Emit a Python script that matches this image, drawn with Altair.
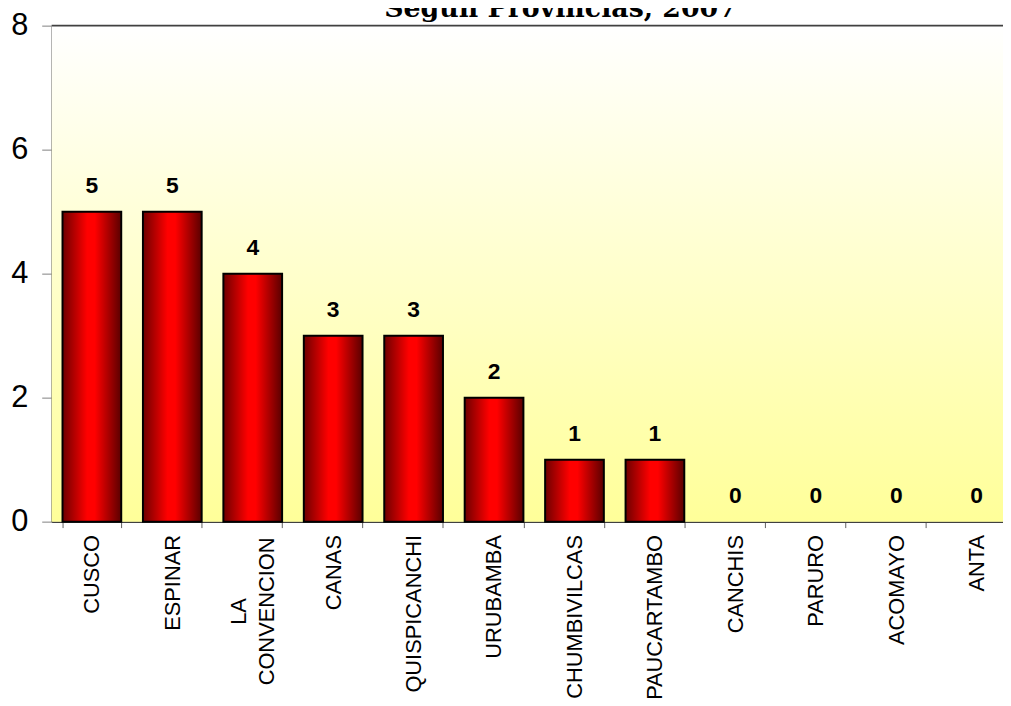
import altair as alt
import pandas as pd

categories = ["CUSCO", "ESPINAR", "LA CONVENCION", "CANAS", "QUISPICANCHI", "URUBAMBA",
              "CHUMBIVILCAS", "PAUCARTAMBO", "CANCHIS", "PARURO", "ACOMAYO", "ANTA"]
values = [5, 5, 4, 3, 3, 2, 1, 1, 0, 0, 0, 0]
y_ticks = [0, 2, 4, 6, 8]
title_text = "Según Provincias, 2007"

df = pd.DataFrame({"prov": categories, "n": values})

W, H = 973, 500

bar_grad = alt.Gradient(
    gradient="linear", x1=0, x2=1, y1=0, y2=0,
    stops=[alt.GradientStop(color="#6e0000", offset=0),
           alt.GradientStop(color="#ff0000", offset=0.42),
           alt.GradientStop(color="#ff0000", offset=0.55),
           alt.GradientStop(color="#5a0000", offset=1)])

bg_grad = alt.Gradient(
    gradient="linear", x1=0, x2=0, y1=0, y2=1,
    stops=[alt.GradientStop(color="#ffffff", offset=0),
           alt.GradientStop(color="#ffff99", offset=1)])

two_line = "datum.label == 'LA CONVENCION'"

xenc = alt.X("prov:N", sort=categories, title=None,
             scale=alt.Scale(paddingInner=0.27, paddingOuter=0.135),
             axis=alt.Axis(tickBand="extent", labelAngle=-90, labelFont="Liberation Sans",
                           labelFontSize=22, labelColor="black",
                           labelPadding=alt.condition(two_line, alt.value(84), alt.value(7)),
                           labelAlign=alt.condition(two_line, alt.value("center"), alt.value("right")),
                           labelLineHeight=28, labelOverlap=False, labelLimit=400,
                           labelExpr="datum.label == 'LA CONVENCION' ? ['LA', 'CONVENCION'] : datum.label",
                           labelOffset=alt.condition(two_line, alt.value(-14), alt.value(0)),
                           domainColor="#404040", domainWidth=1.5, tickColor="#606060",
                           tickSize=6, grid=False))
yenc = alt.Y("n:Q", title=None,
             scale=alt.Scale(domain=[0, 8], nice=False),
             axis=alt.Axis(values=y_ticks, format="d", labelFont="Liberation Sans",
                           labelFontSize=31, labelColor="black", labelPadding=14,
                           tickSize=10, tickColor="#808080",
                           domainColor="#404040", domainWidth=1.5, grid=True,
                           gridColor="#808080", gridWidth=1.2))

bg = alt.Chart(pd.DataFrame({"a": [0]})).mark_rect(fill=bg_grad).encode(
    x=alt.value(0), x2=alt.value(W), y=alt.value(0), y2=alt.value(H))

bars = alt.Chart(df).transform_filter("datum.n > 0").mark_bar(
    fill=bar_grad, stroke="black", strokeWidth=2).encode(x=xenc, y=yenc)

labels = alt.Chart(df).mark_text(font="Liberation Sans", fontSize=23, fontWeight="bold",
                                 color="black", baseline="alphabetic", dy=-19).encode(
    x=alt.X("prov:N", sort=categories), y="n:Q", text="n:Q")

top_rule = alt.Chart(pd.DataFrame({"a": [0]})).mark_rule(color="#404040", strokeWidth=2).encode(
    y=alt.datum(8))

title = alt.Chart(pd.DataFrame({"t": [title_text]})).mark_text(
    font="DejaVu Serif", fontSize=27, fontWeight="bold", color="black", baseline="alphabetic").encode(
    text="t:N", x=alt.value(513), y=alt.value(-9))

chart = alt.layer(bg, bars, labels, top_rule, title).properties(
    width=W, height=H,
    autosize=alt.AutoSizeParams(type="none"),
    padding={"left": 44, "top": 15, "right": -14, "bottom": 175},
    background="white",
).configure_view(stroke=None)

chart.save("out.html", embed_options={"renderer": "svg", "actions": False})
